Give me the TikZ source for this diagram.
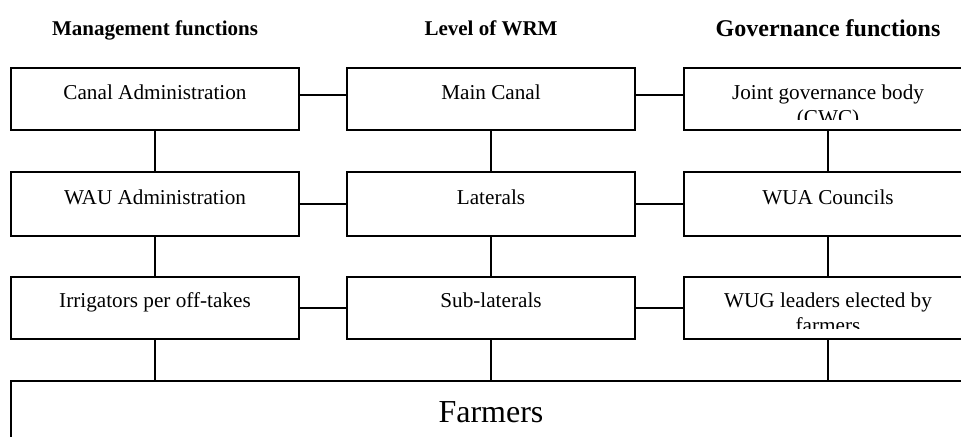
\documentclass[tikz,border=0pt]{standalone}
\usepackage{fontspec}
\setmainfont{Liberation Serif}
\usetikzlibrary{calc}
\tikzset{
  box/.style={draw, line width=1pt, inner sep=0pt, minimum width=144pt, minimum height=31pt},
  link/.style={line width=1pt},
  txt/.style={anchor=base, inner sep=0pt, font=\fontsize{10.6}{12}\selectfont},
  head/.style={anchor=base, inner sep=0pt, font=\fontsize{10.5}{12}\selectfont\bfseries},
}
\begin{document}
\begin{tikzpicture}[x=0.5pt,y=-0.5pt]
\useasboundingbox (0,0) rectangle (961,437);
\clip (0,0) rectangle (961,437);
% headers
\node[head] (h1) at (155,36) {Management functions};
\node[head] (h2) at (491,36) {Level of WRM};
\node[head, font=\fontsize{12}{14}\selectfont\bfseries] (h3) at (828,37) {Governance functions};
% row 1
\node[box] (ca) at (155,99) {};
\node[box] (mc) at (491,99) {};
\node[box] (jg) at (828,99) {};
% row 2
\node[box, minimum height=32pt] (wa) at (155,204) {};
\node[box, minimum height=32pt] (la) at (491,204) {};
\node[box, minimum height=32pt] (wc) at (828,204) {};
% row 3
\node[box] (ir) at (155,308) {};
\node[box] (sl) at (491,308) {};
\node[box] (wg) at (828,308) {};
% farmers
\node[box, minimum width=480.5pt, minimum height=40pt] (fa) at (491.5,421) {};
% texts
\node[txt] (t1) at (155,100) {Canal Administration};
\node[txt] (t2) at (491,100) {Main Canal};
\begin{scope}
\clip (684,69) rectangle (972,120);
\node[txt] (t3) at (828,100) {Joint governance body};
\node[txt] (t3b) at (828,125) {(CWC)};
\end{scope}
\node[txt] (t4) at (155,205) {WAU Administration};
\node[txt] (t5) at (491,205) {Laterals};
\node[txt] (t6) at (828,205) {WUA Councils};
\node[txt] (t7) at (155,308) {Irrigators per off-takes};
\node[txt] (t8) at (491,308) {Sub-laterals};
\begin{scope}
\clip (684,278) rectangle (972,329);
\node[txt] (t9) at (828,308) {WUG leaders elected by};
\node[txt] (t9b) at (828,333) {farmers};
\end{scope}
\node[txt, font=\fontsize{16}{18}\selectfont] (t10) at (491,422) {Farmers};
% connectors
\draw[link] ([yshift=2pt]ca.east) -- ([yshift=2pt]mc.west);
\draw[link] ([yshift=2pt]mc.east) -- ([yshift=2pt]jg.west);
\draw[link] (wa.east) -- (la.west);
\draw[link] (la.east) -- (wc.west);
\draw[link] (ir.east) -- (sl.west);
\draw[link] (sl.east) -- (wg.west);
\draw[link] (ca.south) -- (wa.north);
\draw[link] (mc.south) -- (la.north);
\draw[link] (jg.south) -- (wc.north);
\draw[link] (wa.south) -- (ir.north);
\draw[link] (la.south) -- (sl.north);
\draw[link] (wc.south) -- (wg.north);
\draw[link] (ir.south) -- (ir.south |- fa.north);
\draw[link] (sl.south) -- (sl.south |- fa.north);
\draw[link] (wg.south) -- (wg.south |- fa.north);
\end{tikzpicture}
\end{document}
